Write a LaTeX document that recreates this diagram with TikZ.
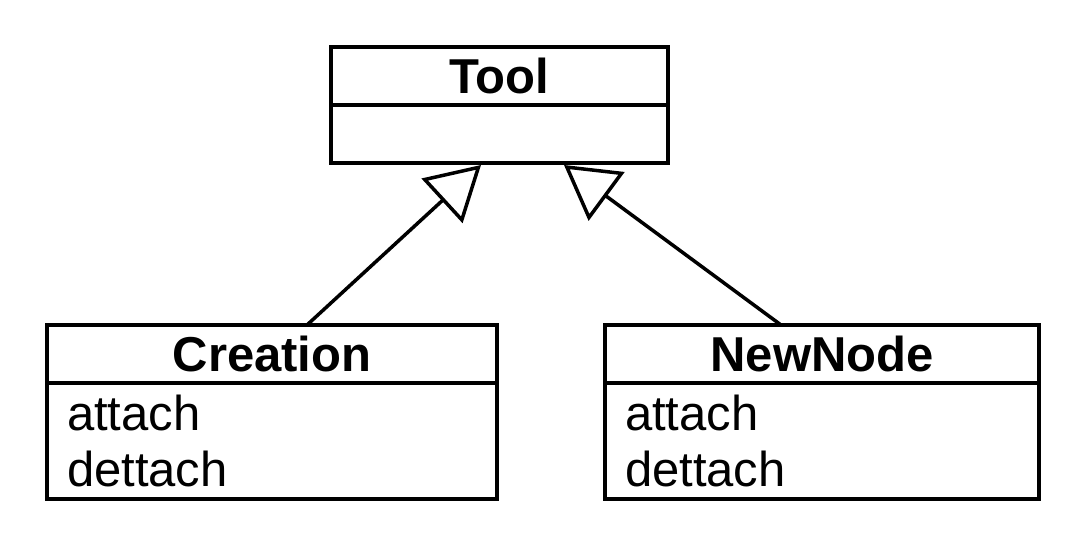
\documentclass[tikz,border=0pt]{standalone}
\usepackage{fontspec}
\setmainfont{Liberation Sans}
\usetikzlibrary{positioning,arrows.meta}

\tikzset{
  umlhead/.style={draw, line width=3.5pt, outer sep=0pt, inner sep=0pt,
    minimum height=58pt, font=\fontsize{49}{56}\selectfont\bfseries},
  umlbody/.style={draw, line width=3.5pt, outer sep=0pt, inner xsep=20pt,
    inner ysep=0pt, align=left, font=\fontsize{49}{56}\selectfont},
  inherit/.style={line width=3.5pt, -{Triangle[open, length=53pt, width=60pt]}}
}

\begin{document}
\begin{tikzpicture}[x=1pt,y=-1pt]
\useasboundingbox (0,0) rectangle (1083,545);
% superclass
\node[umlhead, minimum width=337pt, anchor=north west] (tool) at (331,47) {Tool};
\node[umlbody, minimum width=337pt, minimum height=58pt, below=0pt of tool] (toolops) {};
% subclasses
\node[umlhead, minimum width=450pt, anchor=north west] (creation) at (47,325) {Creation};
\node[umlbody, text width=410pt, minimum height=116pt, below=0pt of creation] (creationops) {attach\\dettach};
\node[umlhead, minimum width=434pt, anchor=north west] (newnode) at (605,325) {NewNode};
\node[umlbody, text width=394pt, minimum height=116pt, below=0pt of newnode] (newnodeops) {attach\\dettach};
% generalisation
\draw[inherit] ([xshift=35pt]creation.north) -- ([xshift=-18.5pt,yshift=-2pt]toolops.south);
\draw[inherit] ([xshift=-41pt]newnode.north) -- ([xshift=64.5pt,yshift=-2pt]toolops.south);
\end{tikzpicture}
\end{document}
